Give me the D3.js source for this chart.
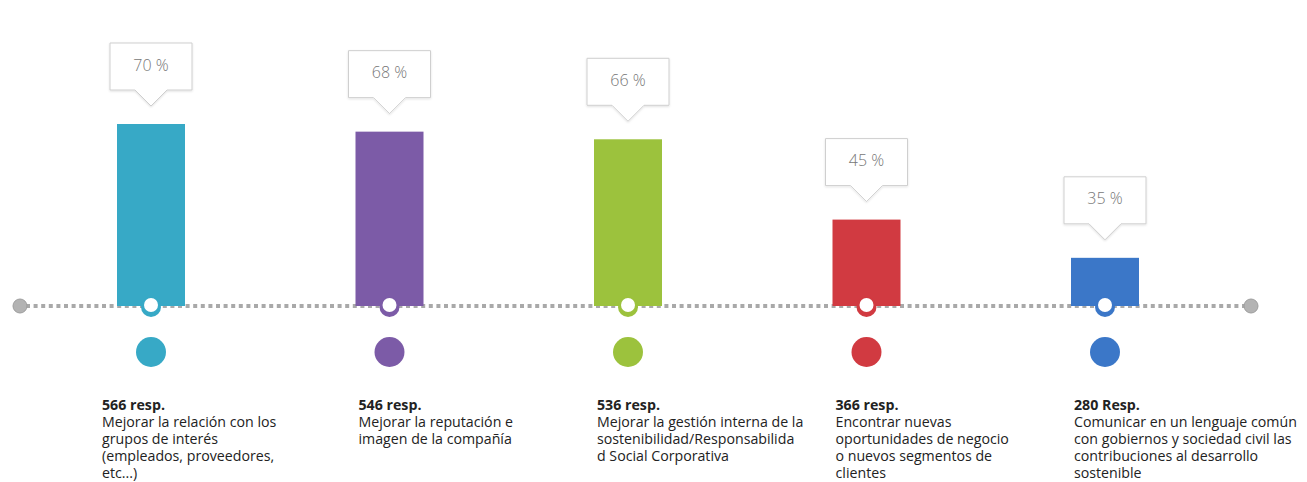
<!DOCTYPE html>
<html>
<head>
<meta charset="utf-8">
<script src="https://cdn.jsdelivr.net/npm/d3@7/dist/d3.min.js"></script>
<style>
  html, body { margin: 0; padding: 0; background: #fff; }
  svg { display: block; }
</style>
</head>
<body>
<svg id="chart" width="1307" height="482"></svg>
<script>
// ---- data ----
const categories = ["c1", "c2", "c3", "c4", "c5"];
const percentages = [70, 68, 66, 45, 35];
const responses = ["566 resp.", "546 resp.", "536 resp.", "366 resp.", "280 Resp."];
const descriptions = [
  ["Mejorar la relación con los", "grupos de interés", "(empleados, proveedores,", "etc...)"],
  ["Mejorar la reputación e", "imagen de la compañía"],
  ["Mejorar la gestión interna de la", "sostenibilidad/Responsabilida", "d Social Corporativa"],
  ["Encontrar nuevas", "oportunidades de negocio", "o nuevos segmentos de", "clientes"],
  ["Comunicar en un lenguaje común", "con gobiernos y sociedad civil las", "contribuciones al desarrollo", "sostenible"]
];
const colors = ["#37a9c6", "#7c5ba7", "#9cc23d", "#d13a41", "#3b77c8"];

// ---- layout ----
const svg = d3.select("#chart");
const baseY = 306;
const barW = 68;
const font = "'Open Sans', 'Noto Sans', sans-serif";

const x = d3.scalePoint().domain(categories).range([151, 1105]);
const y = d3.scaleLinear().domain([22.4, 70]).range([baseY, baseY - 182]);

const defs = svg.append("defs");
const sh = defs.append("filter").attr("id", "sh").attr("x", "-20%").attr("y", "-20%").attr("width", "140%").attr("height", "150%");
sh.append("feDropShadow").attr("dx", 0).attr("dy", 1).attr("stdDeviation", 1).attr("flood-color", "#000").attr("flood-opacity", 0.12);

// baseline dotted line
svg.append("line")
  .attr("x1", 26).attr("x2", 1245)
  .attr("y1", baseY).attr("y2", baseY)
  .attr("stroke", "#a9a9a9").attr("stroke-width", 4)
  .attr("stroke-dasharray", "4 3.6");
[20, 1251].forEach(cx => {
  svg.append("circle").attr("cx", cx).attr("cy", baseY).attr("r", 7)
    .attr("fill", "#b3b3b3").attr("stroke", "#9e9e9e").attr("stroke-width", 1);
});

const g = svg.selectAll("g.item").data(categories).join("g").attr("class", "item");

// bars
g.append("rect")
  .attr("x", (d) => x(d) - barW / 2)
  .attr("width", barW)
  .attr("y", (d, i) => y(percentages[i]))
  .attr("height", (d, i) => baseY - y(percentages[i]))
  .attr("fill", (d, i) => colors[i]);

// bottom knob
g.append("circle").attr("cx", d => x(d)).attr("cy", baseY + 1).attr("r", 10)
  .attr("fill", (d, i) => colors[i]);
g.append("circle").attr("cx", d => x(d)).attr("cy", baseY - 1).attr("r", 7)
  .attr("fill", "#fff");

// callouts
const boxW = 82, boxH = 47, tipH = 16, tipHalf = 16, gap = 18;
g.append("path")
  .attr("d", (d, i) => {
    const cx = x(d);
    const tipY = y(percentages[i]) - gap;
    const bb = tipY - tipH;
    const bt = bb - boxH;
    const l = cx - boxW / 2, r = cx + boxW / 2;
    return `M${l},${bt}H${r}V${bb}H${cx + tipHalf}L${cx},${tipY}L${cx - tipHalf},${bb}H${l}Z`;
  })
  .attr("fill", "#fff").attr("stroke", "#cfcfcf").attr("stroke-width", 1)
  .attr("filter", "url(#sh)");
g.append("text")
  .attr("x", d => x(d))
  .attr("y", (d, i) => y(percentages[i]) - gap - tipH - boxH / 2 + 4)
  .attr("text-anchor", "middle")
  .attr("font-family", font).attr("font-size", 16).attr("font-weight", 300)
  .attr("fill", "#777")
  .text((d, i) => percentages[i] + " %");

// lower dots
g.append("circle").attr("cx", d => x(d)).attr("cy", 352).attr("r", 15)
  .attr("fill", (d, i) => colors[i]);

// labels
const lt = g.append("text")
  .attr("font-family", font).attr("font-size", 14.2).attr("fill", "#222")
  .attr("transform", (d, i) => `translate(${x(d) - (i === 0 ? 49 : 31)},410)`);
lt.append("tspan").attr("x", 0).attr("y", 0).attr("font-weight", 700)
  .text((d, i) => responses[i]);
lt.each(function(d, i) {
  const t = d3.select(this);
  descriptions[i].forEach((line, k) => {
    t.append("tspan").attr("x", 0).attr("y", 17 * (k + 1)).text(line);
  });
});
</script>
</body>
</html>
